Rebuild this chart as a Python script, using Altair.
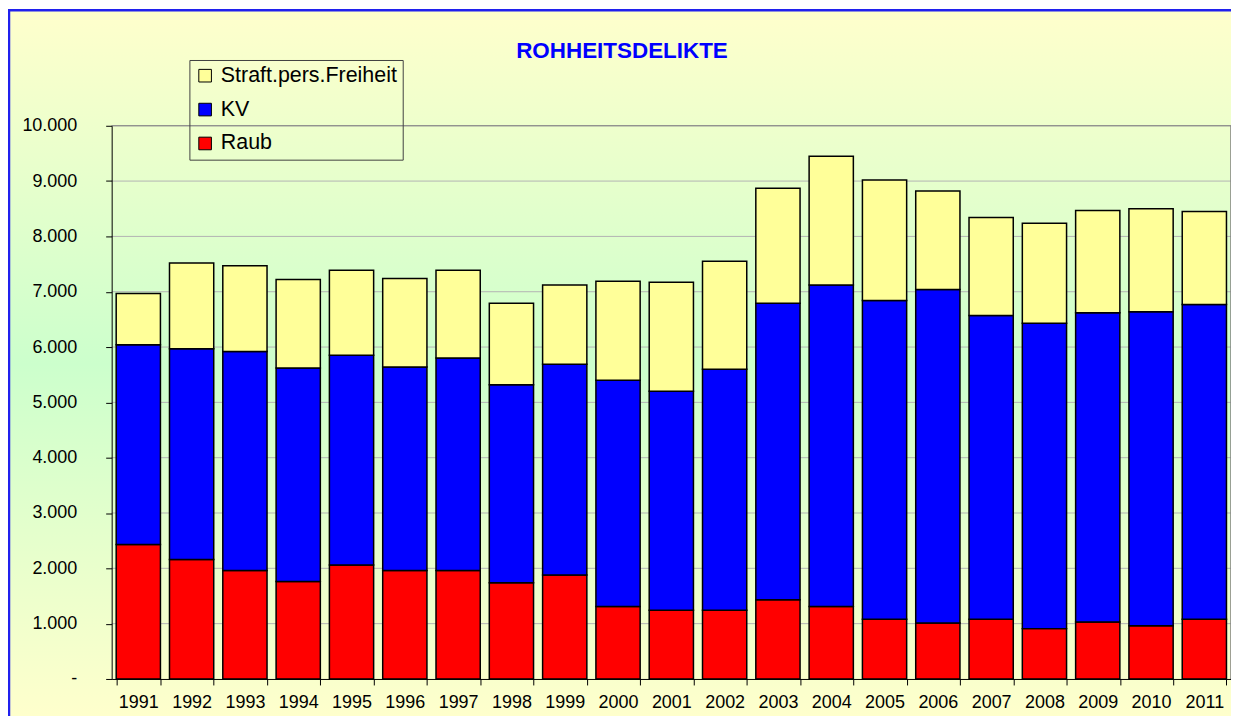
import altair as alt
import pandas as pd

years = [str(y) for y in range(1991, 2012)]
raub = [2430, 2160, 1960, 1760, 2060, 1960, 1960, 1740, 1880, 1310, 1240,
        1240, 1430, 1310, 1080, 1010, 1080, 910, 1030, 960, 1080]
kv = [3610, 3810, 3960, 3860, 3790, 3680, 3840, 3580, 3810, 4090, 3960,
      4360, 5360, 5810, 5760, 6030, 5490, 5520, 5590, 5680, 5690]
straft = [930, 1550, 1550, 1600, 1540, 1600, 1590, 1470, 1430, 1790, 1970,
          1950, 2080, 2330, 2180, 1780, 1770, 1810, 1850, 1860, 1680]
series = ["Straft.pers.Freiheit", "KV", "Raub"]
colors = ["#FFFF99", "#0000FF", "#FF0000"]
grid_values = [1000, 2000, 3000, 4000, 5000, 6000, 7000, 8000, 9000, 10000]
title_text = "ROHHEITSDELIKTE"

rows = []
for i, y in enumerate(years):
    rows.append({"Jahr": y, "Delikt": "Raub", "Wert": raub[i], "ord": 0})
    rows.append({"Jahr": y, "Delikt": "KV", "Wert": kv[i], "ord": 1})
    rows.append({"Jahr": y, "Delikt": "Straft.pers.Freiheit", "Wert": straft[i], "ord": 2})
df = pd.DataFrame(rows)
grid_df = pd.DataFrame({"v": grid_values})
one = pd.DataFrame({"a": [0]})

W, H = 1123, 555
FONT = "Liberation Sans"

yaxis = alt.Axis(values=[0] + grid_values,
                 labelExpr="datum.value == 0 ? '-' : replace(format(datum.value, ','), ',', '.')",
                 tickSize=6, labelPadding=29, labelFontSize=18,
                 labelFont=FONT, labelColor="black",
                 domainColor="black", tickColor="black",
                 grid=False, zindex=1, title=None)
yscale = alt.Scale(domain=[0, 10000])

bg = alt.Chart(one).mark_rect(
    fill=alt.LinearGradient(
        gradient="linear",
        stops=[alt.GradientStop(offset=0, color="#FFFFCC"),
               alt.GradientStop(offset=0.5, color="#CCFFCC"),
               alt.GradientStop(offset=1, color="#FFFFCC")],
        x1=0, x2=0, y1=0, y2=1),
).encode(x=alt.value(-104), x2=alt.value(W + 20),
         y=alt.value(-117), y2=alt.value(H + 40))

border_left = alt.Chart(one).mark_rule(color="#2020EE", strokeWidth=2.5).encode(
    x=alt.value(-103), y=alt.value(-117), y2=alt.value(H + 40))
border_top = alt.Chart(one).mark_rule(color="#2020EE", strokeWidth=2.5).encode(
    x=alt.value(-104), x2=alt.value(W + 20), y=alt.value(-116))

grid = alt.Chart(grid_df).mark_rule(color="#B4B4B4", strokeWidth=1).encode(
    y=alt.Y("v:Q", axis=yaxis, scale=yscale)
)

frame_top = alt.Chart(one).mark_rule(color="#808080", strokeWidth=1).encode(
    x=alt.value(0), x2=alt.value(W), y=alt.value(0))
frame_right = alt.Chart(one).mark_rule(color="#808080", strokeWidth=1.5).encode(
    x=alt.value(W), y=alt.value(0), y2=alt.value(H))

title = alt.Chart(one).mark_text(
    font=FONT, fontSize=22.5, fontWeight="bold", color="#0000FF",
    align="center", baseline="alphabetic"
).encode(x=alt.value(512), y=alt.value(-68), text=alt.value(title_text))

bars = alt.Chart(df).mark_bar(stroke="black", strokeWidth=1.5).encode(
    x=alt.X("Jahr:N", sort=years, title=None,
            scale=alt.Scale(paddingInner=0.17, paddingOuter=0.085),
            axis=alt.Axis(labelAngle=0, tickBand="extent", tickSize=6,
                          labelPadding=9, labelFontSize=18, labelFont=FONT,
                          labelColor="black", domainColor="black",
                          tickColor="black", grid=False, zindex=1)),
    y=alt.Y("Wert:Q", stack="zero", axis=yaxis, scale=yscale),
    color=alt.Color("Delikt:N",
                    scale=alt.Scale(domain=series, range=colors),
                    legend=alt.Legend(title=None, orient="none",
                                      legendX=78, legendY=-66,
                                      labelFontSize=21.5, labelFont=FONT,
                                      labelColor="black", labelOffset=5,
                                      symbolType="square", symbolSize=160,
                                      symbolStrokeColor="black",
                                      symbolStrokeWidth=1,
                                      strokeColor="#404040", padding=5,
                                      rowPadding=11, labelLimit=400)),
    order=alt.Order("ord:Q", sort="ascending"),
)

chart = alt.layer(bg, border_left, border_top, grid, frame_top, frame_right,
                  title, bars).properties(
    width=W, height=H,
    autosize=alt.AutoSizeParams(type="none"),
    padding={"left": 104, "top": 117, "right": 0, "bottom": 36},
).configure_view(stroke=None)

chart.save("out.html", embed_options={"renderer": "svg", "actions": False})
